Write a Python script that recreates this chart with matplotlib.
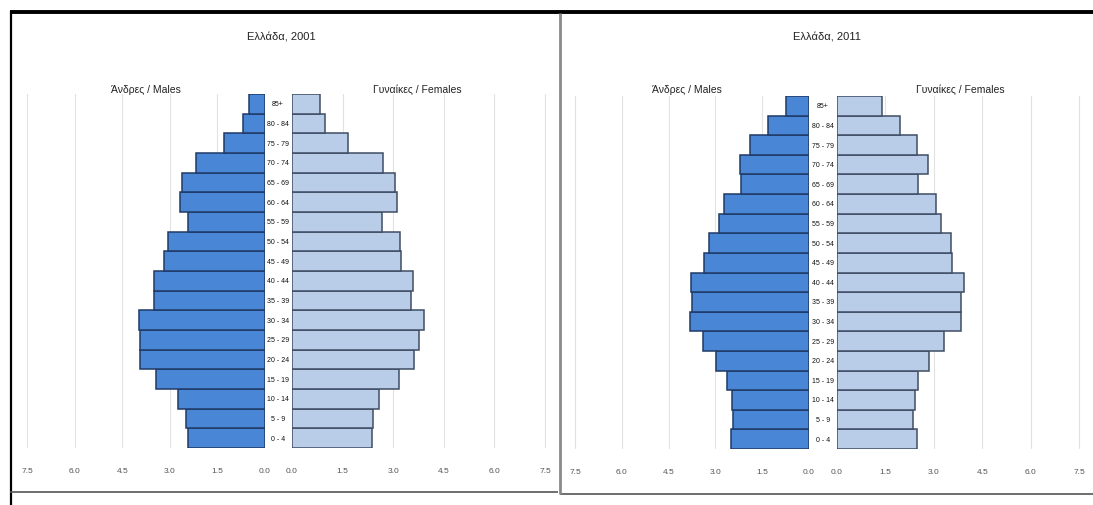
import numpy as np
import matplotlib
matplotlib.use("Agg")
import matplotlib.pyplot as plt
from matplotlib import font_manager
from matplotlib.lines import Line2D
from matplotlib import transforms

# --- Daten ---------------------------------------------------------------
ages = ["0 - 4", "5 - 9", "10 - 14", "15 - 19", "20 - 24", "25 - 29", "30 - 34",
        "35 - 39", "40 - 44", "45 - 49", "50 - 54", "55 - 59", "60 - 64",
        "65 - 69", "70 - 74", "75 - 79", "80 - 84", "85+"]

males_2001 = [2.44, 2.50, 2.75, 3.44, 3.94, 3.94, 3.97, 3.50, 3.50, 3.19,
              3.06, 2.44, 2.69, 2.62, 2.19, 1.28, 0.69, 0.50]
females_2001 = [2.36, 2.39, 2.57, 3.16, 3.61, 3.76, 3.91, 3.52, 3.58, 3.22,
                3.19, 2.66, 3.10, 3.04, 2.69, 1.67, 0.98, 0.84]

males_2011 = [2.49, 2.43, 2.46, 2.62, 2.97, 3.40, 3.80, 3.74, 3.77, 3.35,
              3.22, 2.90, 2.72, 2.17, 2.20, 1.89, 1.31, 0.73]
females_2011 = [2.47, 2.35, 2.41, 2.50, 2.84, 3.33, 3.83, 3.83, 3.95, 3.55,
                3.52, 3.21, 3.06, 2.50, 2.81, 2.47, 1.94, 1.39]

ticks = [0.0, 1.5, 3.0, 4.5, 6.0, 7.5]
tick_labels = ["0.0", "1.5", "3.0", "4.5", "6.0", "7.5"]

titles = ["Ελλάδα, 2001", "Ελλάδα, 2011"]
label_m = "Άνδρες / Males"
label_f = "Γυναίκες / Females"

# --- Stil ------------------------------------------------------------------
names = {f.name for f in font_manager.fontManager.ttflist}
FONT = "Liberation Sans Narrow" if "Liberation Sans Narrow" in names else "Liberation Sans"
plt.rcParams["font.family"] = [FONT, "DejaVu Sans"]

C_MALE = "#4a86d6"
C_MALE_EDGE = "#1f3a66"
C_FEM = "#b9cde8"
C_FEM_EDGE = "#3f4d63"
C_GRID = "#e2e2e2"
C_TEXT = "#222222"

W, H = 1093, 506
fig = plt.figure(figsize=(W / 100, H / 100), dpi=100)
fig.patch.set_facecolor("white")


def rect(x0, x1, y0, y1):
    return [x0 / W, 1 - y1 / H, (x1 - x0) / W, (y1 - y0) / H]


def fline(xs, ys, color, lw):
    fig.add_artist(Line2D([x / W for x in xs], [1 - y / H for y in ys],
                          transform=fig.transFigure, color=color, lw=lw,
                          solid_capstyle="butt"))


XMAX = 7.7
y = np.arange(len(ages))

# Pixelgeometrie je Panel: (Null Männer, 7.5 Männer, Null Frauen, 7.5 Frauen, oben, unten)
panels = [
    dict(mz=265, m75=27, fz=292, f75=545, top=95, bot=449, title_x=281,
         lm_x=146, lf_x=417, mid=278, data=(males_2001, females_2001), title=titles[0]),
    dict(mz=809, m75=575, fz=837, f75=1079, top=97, bot=450, title_x=827,
         lm_x=687, lf_x=960, mid=823, data=(males_2011, females_2011), title=titles[1]),
]

for p in panels:
    sm = (p["mz"] - p["m75"]) / 7.5
    sf = (p["f75"] - p["fz"]) / 7.5
    ax_m = fig.add_axes(rect(p["mz"] - XMAX * sm, p["mz"], p["top"], p["bot"]))
    ax_f = fig.add_axes(rect(p["fz"], p["fz"] + XMAX * sf, p["top"], p["bot"]))
    males, females = p["data"]

    ax_m.barh(y, males, height=1.0, color=C_MALE, edgecolor=C_MALE_EDGE, linewidth=1.1, zorder=3)
    ax_f.barh(y, females, height=1.0, color=C_FEM, edgecolor=C_FEM_EDGE, linewidth=1.1, zorder=3)
    ax_m.set_xlim(XMAX, 0)
    ax_f.set_xlim(0, XMAX)

    for ax in (ax_m, ax_f):
        ax.set_ylim(-0.5, len(ages) - 0.5)
        ax.set_yticks([])
        ax.set_xticks(ticks)
        ax.set_xticklabels(tick_labels)
        ax.tick_params(axis="x", length=0, labelsize=6, pad=14, labelcolor="#555555")
        for s in ax.spines.values():
            s.set_visible(False)
        for t in ticks[1:]:
            ax.axvline(t, color=C_GRID, lw=0.8, zorder=1)
        ax.set_facecolor("none")

    # Altersgruppen in der Mitte
    tr = transforms.blended_transform_factory(fig.transFigure, ax_f.transData)
    for i, a in enumerate(ages):
        ax_f.text(p["mid"] / W, i, a, transform=tr, ha="center", va="center",
                  fontsize=5, color="#111111")

    fig.text(p["title_x"] / W, 1 - 37 / H, p["title"], ha="center", va="center",
             fontsize=8, color=C_TEXT)
    fig.text(p["lm_x"] / W, 1 - 90 / H, label_m, ha="center", va="center",
             fontsize=7.5, color=C_TEXT)
    fig.text(p["lf_x"] / W, 1 - 90 / H, label_f, ha="center", va="center",
             fontsize=7.5, color=C_TEXT)

# Rahmen des Screenshots
fline([10, W], [13, 13], "black", 2.8)
fline([11, 11], [12, H], "black", 1.6)
fline([10, 558], [493, 493], "#555555", 1.2)
fline([560, W], [495, 495], "#555555", 1.2)
fline([560, 560], [14, 495], "#8a8a8a", 2.0)

fig.savefig("out.png", dpi=100, facecolor="white")
plt.close(fig)
